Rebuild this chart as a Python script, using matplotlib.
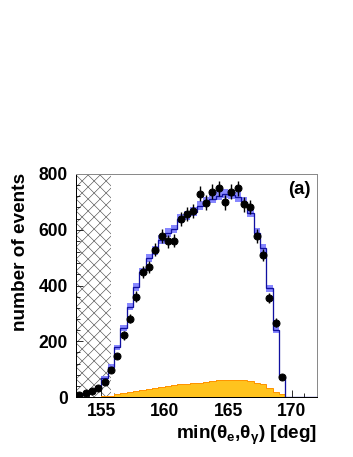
import numpy as np
import matplotlib
matplotlib.use("Agg")
import matplotlib.pyplot as plt
from matplotlib.ticker import MultipleLocator
from matplotlib.collections import LineCollection
from matplotlib.patches import Rectangle
from matplotlib.transforms import IdentityTransform

plt.rcParams['font.family'] = ['Liberation Sans', 'DejaVu Sans']
plt.rcParams['font.weight'] = 'bold'
plt.rcParams['mathtext.fontset'] = 'custom'
plt.rcParams['mathtext.rm'] = 'Liberation Sans:bold'
plt.rcParams['mathtext.it'] = 'Liberation Sans:bold'
plt.rcParams['mathtext.bf'] = 'Liberation Sans:bold'

# ---- data ----
bin_lo, bin_hi, bin_w = 153.0, 172.0, 0.5
data_centers = [153.25, 153.75, 154.25, 154.75, 155.25, 155.75, 156.25, 156.75,
                157.25, 157.75, 158.25, 158.75, 159.25, 159.75, 160.25, 160.75,
                161.25, 161.75, 162.25, 162.75, 163.25, 163.75, 164.25, 164.75,
                165.25, 165.75, 166.25, 166.75, 167.25, 167.75, 168.25, 168.75,
                169.25]
data_counts = [6, 13, 21, 34, 55, 98, 147, 221, 281, 360, 449, 467, 529, 577,
               558, 560, 639, 656, 668, 730, 697, 736, 748, 698, 737, 748, 691,
               682, 578, 509, 355, 266, 73]
mc_counts = [5, 11, 22, 33, 68, 109, 178, 246, 324, 395, 450, 500, 525, 565,
             590, 602, 640, 650, 664, 686, 700, 712, 722, 730, 726, 718, 700,
             660, 590, 533, 390, 240, 73, 0, 0, 0, 0, 0]
mc_err = [2, 3, 4, 5, 7, 8, 10, 11, 12, 13, 14, 14, 15, 15, 15, 15, 16, 16, 16,
          16, 16, 16, 17, 17, 17, 17, 16, 16, 15, 15, 13, 10, 6, 0, 0, 0, 0, 0]
bkg_counts = [0, 0, 0, 0, 2, 5, 9, 13, 18, 22, 26, 30, 33, 36, 39, 42, 45, 47,
              50, 52, 55, 57, 60, 61, 62, 62, 61, 58, 52, 48, 31, 19, 10, 0,
              0, 0, 0, 0]
cut_lo, cut_hi = 153.0, 155.75
xticks = [155, 160, 165, 170]
yticks = [0, 200, 400, 600, 800]

edges = np.arange(bin_lo, bin_hi + bin_w / 2, bin_w)
mc = np.array(mc_counts, float)
err = np.array(mc_err, float)

W, H = 353, 457
fig = plt.figure(figsize=(W / 72, H / 72), dpi=72)
ax = fig.add_axes([76 / W, 1 - 397 / H, 241 / W, 223 / H])

FS = 17.5
FSL = 19

ax.set_xlim(bin_lo, bin_hi)
ax.set_ylim(0, 800)

# excluded (hatched) region: diagonal cross-hatch with ~12 px cell
rect = Rectangle((cut_lo, 0), cut_hi - cut_lo, 800, transform=ax.transData,
                 facecolor='white', edgecolor='none', zorder=1)
ax.add_patch(rect)
(x0, y0) = ax.transData.transform((cut_lo, 0))
(x1, y1) = ax.transData.transform((cut_hi, 800))
step = 12.0
segs = []
span = (x1 - x0) + (y1 - y0)
k = -span
while k < span + step:
    segs.append([(x0 + k, y0), (x0 + k + span, y0 + span)])
    segs.append([(x0 + k, y0), (x0 + k - span, y0 + span)])
    k += step
lc = LineCollection(segs, colors='#4a4a4a', linewidths=0.6,
                    transform=IdentityTransform(), zorder=1.5)
ax.add_collection(lc, autolim=False)
lc.set_clip_path(rect)

# background (orange)
ax.stairs(bkg_counts, edges, fill=True, color='#ffc31e', zorder=2)
ax.stairs(bkg_counts, edges, color='#ff9400', linewidth=1.0, zorder=2.1)

# MC band and line
ax.stairs(mc + err, edges, baseline=mc - err, fill=True, color='#7272ff',
          alpha=0.85, zorder=3)
ax.stairs(mc, edges, color='#1010a0', linewidth=1.3, zorder=4)

# data
ax.errorbar(data_centers, data_counts, yerr=np.sqrt(data_counts), fmt='o',
            color='black', markersize=7, elinewidth=1.4, capsize=0, zorder=5)

ax.set_xlim(bin_lo, bin_hi)
ax.set_ylim(0, 800)
ax.set_xticks(xticks)
ax.set_yticks(yticks)
ax.xaxis.set_minor_locator(MultipleLocator(1))
ax.yaxis.set_minor_locator(MultipleLocator(40))
ax.tick_params(which='both', direction='in', top=False, right=False,
               labelsize=FS)
ax.tick_params(which='major', length=7, width=0.8)
ax.tick_params(which='minor', length=4, width=0.8)
ax.tick_params(axis='x', pad=6)
ax.tick_params(axis='y', pad=8)
for lab in ax.get_xticklabels() + ax.get_yticklabels():
    lab.set_fontweight('bold')

for s in ['top', 'right']:
    ax.spines[s].set_color('#8a8a8a')
for s in ['left', 'bottom']:
    ax.spines[s].set_color('black')
for s in ax.spines.values():
    s.set_linewidth(1.0)
    s.set_zorder(6)

fig.text(299 / W, 1 - 194 / H, '(a)', ha='center', va='baseline',
         fontsize=18.5, fontweight='bold')

fig.text(25 / W, 1 - 173 / H, 'number of events', rotation=90,
         rotation_mode='anchor', ha='right', va='baseline', fontsize=FSL,
         fontweight='bold')
fig.text(317 / W, 1 - 439 / H, r'min(θ$_{e}$,θ$_{γ}$) [deg]', ha='right',
         va='baseline', fontsize=FSL, fontweight='bold')

fig.savefig('out.png', dpi=72)
